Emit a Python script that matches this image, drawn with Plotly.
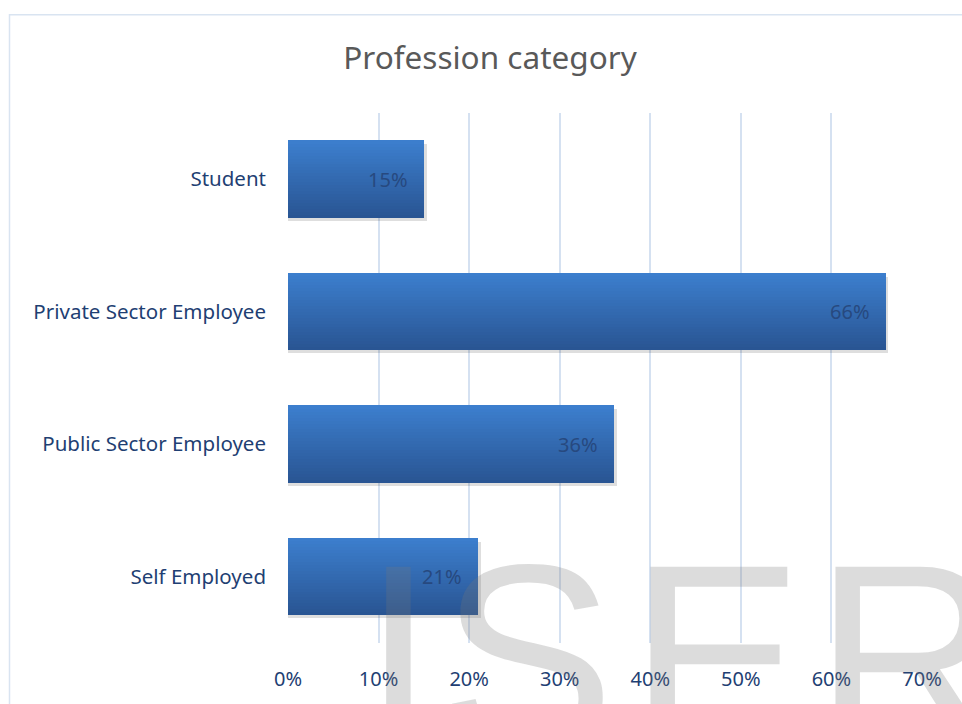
import plotly.graph_objects as go

# ---- data ----
categories = ["Self Employed", "Public Sector Employee", "Private Sector Employee", "Student"]
values = [21, 36, 66, 15]
tick_vals = [0, 10, 20, 30, 40, 50, 60, 70]
tick_text = ["0%", "10%", "20%", "30%", "40%", "50%", "60%", "70%"]
title_text = "Profession category"
watermark_letters = ["I", "S", "E", "R"]
watermark_centers_px = [398, 527, 716, 908]   # layout positions (style)

FONT = "Noto Sans"
BAR_W = 0.58
N_STRIPS = 26
top_rgb = (0x3C, 0x7E, 0xCD)
bot_rgb = (0x29, 0x55, 0x93)

PLOT_L, PLOT_R, PLOT_T, PLOT_B = 288, 922, 113, 650
PW, PH = PLOT_R - PLOT_L, PLOT_B - PLOT_T


def px_x(px):
    return (px - PLOT_L) / PW


def px_y(py):
    return 1 + (PLOT_T - py) / PH


fig = go.Figure()

# soft shadow
fig.add_trace(go.Bar(
    y=categories, x=[v + 0.3 for v in values], orientation="h",
    width=BAR_W, offset=-BAR_W / 2 - 0.025,
    marker=dict(color="rgba(0,0,0,0.13)", line=dict(width=0)),
    hoverinfo="skip", showlegend=False))

# gradient bar built from horizontal strips
for k in range(N_STRIPS):
    t = k / (N_STRIPS - 1)  # 0 bottom -> 1 top
    c = tuple(round(bot_rgb[i] + (top_rgb[i] - bot_rgb[i]) * t) for i in range(3))
    fig.add_trace(go.Bar(
        y=categories, x=values, orientation="h",
        width=BAR_W / N_STRIPS + 0.003,
        offset=-BAR_W / 2 + k * BAR_W / N_STRIPS,
        marker=dict(color="rgb(%d,%d,%d)" % c, line=dict(width=0)),
        hoverinfo="skip", showlegend=False))

# data labels
for cat, v in zip(categories, values):
    fig.add_annotation(x=v, y=cat, text=f"{v}%", showarrow=False,
                       xanchor="right", xshift=-14,
                       font=dict(family=FONT, size=20, color="#27497f"))

# watermark letters
for ch, cx in zip(watermark_letters, watermark_centers_px):
    fig.add_annotation(x=px_x(cx), y=px_y(513),
                       xref="paper", yref="paper", text=ch, showarrow=False,
                       xanchor="center", yanchor="top",
                       font=dict(family="Liberation Sans", size=262,
                                 color="rgba(120,120,120,0.26)"))

# chart border
fig.add_shape(type="rect", xref="paper", yref="paper",
              x0=px_x(9.5), x1=1.3, y0=-0.3, y1=px_y(13.5),
              line=dict(color="#d9e4f1", width=1.5), layer="below")

fig.update_layout(
    width=962, height=704,
    margin=dict(l=PLOT_L, r=962 - PLOT_R, t=PLOT_T, b=704 - PLOT_B),
    paper_bgcolor="white", plot_bgcolor="white",
    barmode="overlay", bargap=0,
    showlegend=False,
    title=dict(text=title_text, x=px_x(490), xref="paper", xanchor="center",
               y=1 - 58 / 704, yanchor="middle",
               font=dict(family=FONT, size=31.5, color="#595959")),
    xaxis=dict(range=[0, 70], tickvals=tick_vals, ticktext=tick_text,
               showgrid=True, gridcolor="#d5e1f1", gridwidth=1.5,
               zeroline=False, showline=False, ticks="", ticklabelstandoff=22,
               tickfont=dict(family=FONT, size=20, color="#1f3f73")),
    yaxis=dict(categoryorder="array", categoryarray=categories,
               showgrid=False, zeroline=False, showline=False, ticks="",
               ticklabelstandoff=21,
               tickfont=dict(family=FONT, size=20.5, color="#1f3f73")),
)

fig.write_html("out.html")
